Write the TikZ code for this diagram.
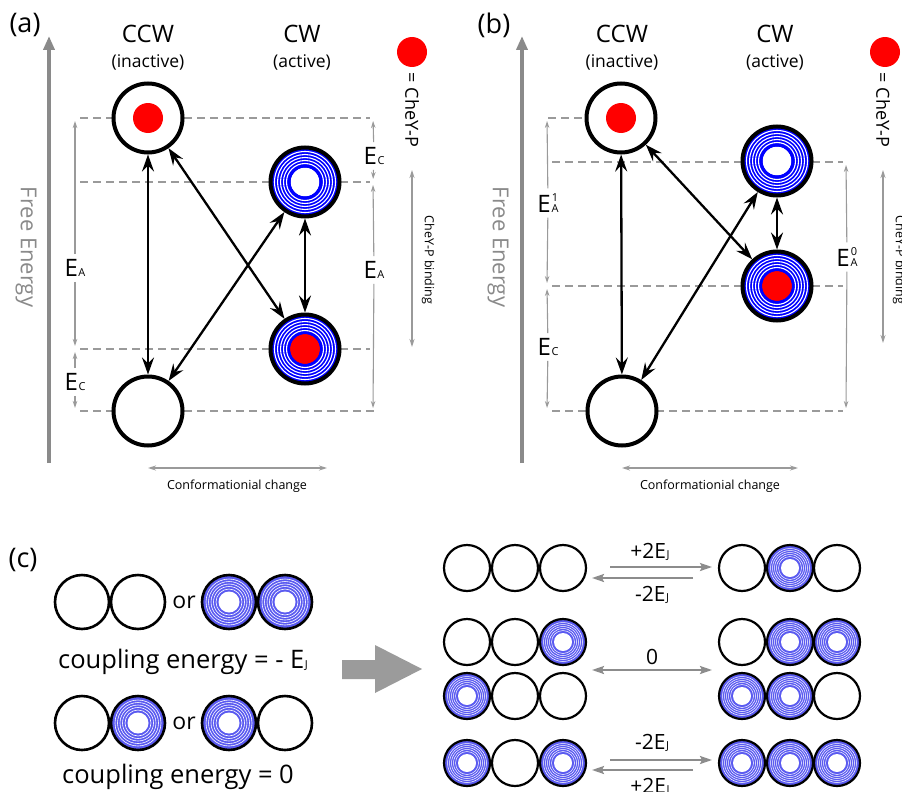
\documentclass[tikz,border=0pt]{standalone}
\usepackage{fontspec}
\setmainfont{Open Sans}
\usetikzlibrary{arrows.meta}
\definecolor{dimgray}{HTML}{9A9A9A}
\definecolor{fegray}{HTML}{8A8A8A}
\definecolor{ringblue}{HTML}{0000FF}
\definecolor{softblue}{HTML}{5A5AF0}
\definecolor{arrgray}{HTML}{8C8C8C}
\definecolor{biggray}{HTML}{9B9B9B}
\newcommand{\Esub}[1]{E\kern0.6pt{\fontsize{11}{11}\selectfont #1}}
\newcommand{\Esupsub}[2]{E\kern0.8pt{\fontsize{11}{11}\selectfont\shortstack{#1\\#2}}}
\tikzset{
  st/.style={circle, draw=black, fill=white, line width=4pt, minimum size=69pt, inner sep=0pt},
  redctr/.style={path picture={\fill[red] (path picture bounding box.center) circle (15pt);}},
  ringsw/.style={path picture={
      \fill[ringblue] (path picture bounding box.center) circle (34pt);
      \foreach \r in {30.5,27.5,24.5,21.5,18.5}{\draw[white, line width=1.1pt] (path picture bounding box.center) circle (\r pt);}
      \fill[white] (path picture bounding box.center) circle (14.5pt);
      \draw[ringblue, line width=1pt] (path picture bounding box.center) circle (15pt);}},
  ringsr/.style={path picture={
      \fill[ringblue] (path picture bounding box.center) circle (34pt);
      \foreach \r in {30.5,27.5,24.5,21.5,18.5}{\draw[white, line width=1.1pt] (path picture bounding box.center) circle (\r pt);}
      \fill[red] (path picture bounding box.center) circle (15pt);
      \draw[ringblue, line width=1pt] (path picture bounding box.center) circle (15.5pt);}},
  scl/.style={circle, draw=black, fill=white, line width=2.6pt, minimum size=54pt, inner sep=0pt},
  scr/.style={circle, draw=black, fill=white, line width=2.2pt, minimum size=46pt, inner sep=0pt},
  blL/.style={path picture={
      \fill[softblue] (path picture bounding box.center) circle (28pt);
      \foreach \r in {23,20.5,18,15.5,13}{\draw[white, line width=0.6pt] (path picture bounding box.center) circle (\r pt);}
      \fill[white] (path picture bounding box.center) circle (10.5pt);}},
  blR/.style={path picture={
      \fill[softblue] (path picture bounding box.center) circle (24pt);
      \foreach \r in {19.5,17.5,15.5,13.5,11.5}{\draw[white, line width=0.5pt] (path picture bounding box.center) circle (\r pt);}
      \fill[white] (path picture bounding box.center) circle (9pt);}},
  legdot/.style={circle, fill=red, minimum size=30pt, inner sep=0pt},
  big/.style={font=\fontsize{24}{24}\selectfont, inner sep=0pt},
  small/.style={font=\fontsize{17.5}{17.5}\selectfont, inner sep=0pt},
  panel/.style={font=\fontsize{27}{27}\selectfont, inner sep=0pt},
  lblE/.style={font=\fontsize{24}{24}\selectfont, inner xsep=0pt, inner ysep=5pt},
  fetext/.style={font=\fontsize{22}{22}\selectfont, text=fegray, rotate=-90, inner sep=0pt},
  legtext/.style={font=\fontsize{18}{18}\selectfont, rotate=-90, inner sep=0pt},
  bindtext/.style={font=\fontsize{12.5}{12.5}\selectfont, rotate=-90, inner sep=0pt},
  conftext/.style={font=\fontsize{12.5}{12.5}\selectfont, inner sep=0pt},
  dline/.style={draw=dimgray, line width=1.2pt, dash pattern=on 8pt off 5pt},
  dimarr/.style={draw=dimgray, line width=1.1pt, shorten >=3pt, -{Stealth[length=7pt,width=4.5pt]}},
  gdbl/.style={draw=dimgray, line width=1.2pt, {Stealth[length=8pt,width=5pt]}-{Stealth[length=8pt,width=5pt]}},
  bk/.style={line width=2.3pt, {Stealth[length=17pt,width=12pt,inset=6pt]}-{Stealth[length=17pt,width=12pt,inset=6pt]}},
  fearr/.style={draw=fegray, line width=4pt, -{Triangle[length=14pt,width=11pt]}},
  carr/.style={draw=arrgray, line width=2pt, -{Stealth[length=12pt,width=8pt,inset=2pt]}},
  cdbl/.style={draw=arrgray, line width=2pt, {Stealth[length=12pt,width=8pt,inset=2pt]}-{Stealth[length=12pt,width=8pt,inset=2pt]}},
  ctext/.style={font=\fontsize{25.5}{25.5}\selectfont, inner sep=0pt},
  ortext/.style={font=\fontsize{23}{23}\selectfont, inner sep=0pt},
  rtext/.style={font=\fontsize{21}{21}\selectfont, inner sep=0pt},
}
\begin{document}
\begin{tikzpicture}[x=1pt, y=-1pt]
\useasboundingbox (0,0) rectangle (902,792);
\clip (0,0) rectangle (902,792);
\fill[white] (0,0) rectangle (902,792);

% ================= panel (a) =================
\node[panel] (pa) at (25,25) {(a)};
\node[big] (aCCWh) at (148,34) {CCW};
\node[small] (aCCWs) at (148,62) {(inactive)};
\node[big] (aCWh) at (302,34) {CW};
\node[small] (aCWs) at (302,62) {(active)};
\coordinate (aFE0) at (49,463);
\coordinate (aFE1) at (49,36);
\draw[fearr] (aFE0) -- (aFE1);
\node[fetext] (aFEt) at (26,247) {Free Energy};
% dashed levels
\coordinate (aL1) at (80,118); \coordinate (aR1) at (370,118);
\coordinate (aL2) at (80,182); \coordinate (aR2) at (370,182);
\coordinate (aL3) at (80,349); \coordinate (aR3) at (370,349);
\coordinate (aL4) at (80,411); \coordinate (aR4) at (374,411);
\draw[dline] (aL1) -- (aR1);
\draw[dline] (aL2) -- (aR2);
\draw[dline] (aL3) -- (aR3);
\draw[dline] (aL4) -- (aR4);
% left dims
\coordinate (aDl1) at (75,118); \coordinate (aDl3) at (75,349); \coordinate (aDl4) at (75,411);
\node[lblE] (aEAl) at (75,268) {\Esub{A}};
\node[lblE] (aECl) at (75,382) {\Esub{C}};
\draw[dimarr] (aEAl) -- (aDl1);
\draw[dimarr] (aEAl) -- (aDl3);
\draw[dimarr] (aECl) -- (aDl3);
\draw[dimarr] (aECl) -- (aDl4);
% right dims
\coordinate (aDr1) at (373,118); \coordinate (aDr2) at (373,182); \coordinate (aDr4) at (373,411);
\node[lblE] (aECr) at (374,156) {\Esub{C}};
\node[lblE] (aEAr) at (374,270) {\Esub{A}};
\draw[dimarr] (aECr) -- (aDr1);
\draw[dimarr] (aECr) -- (aDr2);
\draw[dimarr] (aEAr) -- (aDr2);
\draw[dimarr] (aEAr) -- (aDr4);
% binding
\coordinate (aB1) at (412,170); \coordinate (aB2) at (412,347);
\draw[gdbl] (aB1) -- (aB2);
\node[bindtext] (aBt) at (428,260) {CheY-P binding};
\node[legdot] (aLeg) at (412,52) {};
\node[legtext] (aLegt) at (412,110) {= CheY-P};
% conformational
\coordinate (aC1) at (148,468); \coordinate (aC2) at (327,468);
\draw[gdbl] (aC1) -- (aC2);
\node[conftext] (aCt) at (237,486) {Conformationial change};
% states
\node[st, redctr] (aCCWt) at (148,118) {};
\node[st, ringsw] (aCWt) at (305,182) {};
\node[st, ringsr] (aCWb) at (305,349) {};
\node[st] (aCCWb) at (148,411) {};
\draw[bk] (aCCWt) -- (aCCWb);
\draw[bk] (aCCWt) -- (aCWb);
\draw[bk] (aCWt) -- (aCCWb);
\draw[bk] (aCWt) -- (aCWb);

% ================= panel (b) =================
\node[panel] (pb) at (494,25) {(b)};
\node[big] (bCCWh) at (622,34) {CCW};
\node[small] (bCCWs) at (622,62) {(inactive)};
\node[big] (bCWh) at (775,34) {CW};
\node[small] (bCWs) at (775,62) {(active)};
\coordinate (bFE0) at (522,463);
\coordinate (bFE1) at (522,36);
\draw[fearr] (bFE0) -- (bFE1);
\node[fetext] (bFEt) at (498,247) {Free Energy};
\coordinate (bL1) at (548,118); \coordinate (bR1) at (584,118);
\coordinate (bL2) at (552,162); \coordinate (bR2) at (843,162);
\coordinate (bL3) at (552,286); \coordinate (bR3) at (843,286);
\coordinate (bL4) at (552,411); \coordinate (bR4) at (843,411);
\draw[dline] (bL1) -- (bR1);
\draw[dline] (bL2) -- (bR2);
\draw[dline] (bL3) -- (bR3);
\draw[dline] (bL4) -- (bR4);
\coordinate (bDl1) at (547,118); \coordinate (bDl3) at (547,286); \coordinate (bDl4) at (547,411);
\node[lblE] (bEAl) at (548,203) {\Esupsub{1}{A}};
\node[lblE] (bECl) at (548,347) {\Esub{C}};
\draw[dimarr] (bEAl) -- (bDl1);
\draw[dimarr] (bEAl) -- (bDl3);
\draw[dimarr] (bECl) -- (bDl3);
\draw[dimarr] (bECl) -- (bDl4);
\coordinate (bDr2) at (846,162); \coordinate (bDr4) at (846,411);
\node[lblE] (bEAr) at (847,257) {\Esupsub{0}{A}};
\draw[dimarr] (bEAr) -- (bDr2);
\draw[dimarr] (bEAr) -- (bDr4);
\coordinate (bB1) at (883,170); \coordinate (bB2) at (883,343);
\draw[gdbl] (bB1) -- (bB2);
\node[bindtext] (bBt) at (899,260) {CheY-P binding};
\node[legdot] (bLeg) at (885,52) {};
\node[legtext] (bLegt) at (883,110) {= CheY-P};
\coordinate (bC1) at (622,468); \coordinate (bC2) at (798,468);
\draw[gdbl] (bC1) -- (bC2);
\node[conftext] (bCt) at (710,486) {Conformationial change};
\node[st, redctr] (bCCWt) at (621,118) {};
\node[st, ringsw] (bCWt) at (777,161) {};
\node[st, ringsr] (bCWb) at (777,286) {};
\node[st] (bCCWb) at (622,411) {};
\draw[bk] (bCCWt) -- (bCCWb);
\draw[bk] (bCCWt) -- (bCWb);
\draw[bk] (bCWt) -- (bCCWb);
\draw[bk] (bCWt) -- (bCWb);

% ================= panel (c) =================
\node[panel] (pc) at (23,560) {(c)};
\node[scl] (c1a) at (82,602) {};
\node[scl] (c1b) at (138,602) {};
\node[ortext] (c1or) at (184,602) {or};
\node[scl, blL] (c1c) at (229,602) {};
\node[scl, blL] (c1d) at (285,602) {};
\node[ctext] (c1t) at (183,662) {coupling energy = - \Esub{J}};
\node[scl] (c2a) at (82,723) {};
\node[scl, blL] (c2b) at (138,723) {};
\node[ortext] (c2or) at (184,723) {or};
\node[scl, blL] (c2c) at (229,723) {};
\node[scl] (c2d) at (285,723) {};
\node[ctext] (c2t) at (178,777) {coupling energy = 0};
\fill[biggray] (342,660) -- (375,660) -- (375,645) -- (422,669) -- (375,693) -- (375,679) -- (342,679) -- cycle;

% right rows
\node[scr] (r1l1) at (467,568) {};
\node[scr] (r1l2) at (515,568) {};
\node[scr] (r1l3) at (563,568) {};
\node[scr] (r1r1) at (742,568) {};
\node[scr, blR] (r1r2) at (790,568) {};
\node[scr] (r1r3) at (837,568) {};

\node[scr] (r2l1) at (467,642) {};
\node[scr] (r2l2) at (515,642) {};
\node[scr, blR] (r2l3) at (563,642) {};
\node[scr] (r2r1) at (742,642) {};
\node[scr, blR] (r2r2) at (790,642) {};
\node[scr, blR] (r2r3) at (837,642) {};

\node[scr, blR] (r3l1) at (467,696) {};
\node[scr] (r3l2) at (515,696) {};
\node[scr] (r3l3) at (563,696) {};
\node[scr, blR] (r3r1) at (742,696) {};
\node[scr, blR] (r3r2) at (790,696) {};
\node[scr] (r3r3) at (837,696) {};

\node[scr, blR] (r4l1) at (467,763) {};
\node[scr] (r4l2) at (515,763) {};
\node[scr, blR] (r4l3) at (563,763) {};
\node[scr, blR] (r4r1) at (742,763) {};
\node[scr, blR] (r4r2) at (790,763) {};
\node[scr, blR] (r4r3) at (837,763) {};

\coordinate (k1a) at (610,567); \coordinate (k1b) at (712,567);
\coordinate (k1c) at (693,578); \coordinate (k1d) at (592,578);
\draw[carr] (k1a) -- (k1b);
\draw[carr] (k1c) -- (k1d);
\node[rtext] (k1t) at (650,552) {+2\Esub{J}};
\node[rtext] (k1u) at (652,595) {-2\Esub{J}};

\coordinate (k2a) at (592,670); \coordinate (k2b) at (712,670);
\draw[cdbl] (k2a) -- (k2b);
\node[rtext] (k2t) at (652,657) {0};

\coordinate (k3a) at (610,760); \coordinate (k3b) at (712,760);
\coordinate (k3c) at (693,770); \coordinate (k3d) at (592,770);
\draw[carr] (k3a) -- (k3b);
\draw[carr] (k3c) -- (k3d);
\node[rtext] (k3t) at (652,743) {-2\Esub{J}};
\node[rtext] (k3u) at (650,787) {+2\Esub{J}};
\end{tikzpicture}
\end{document}
